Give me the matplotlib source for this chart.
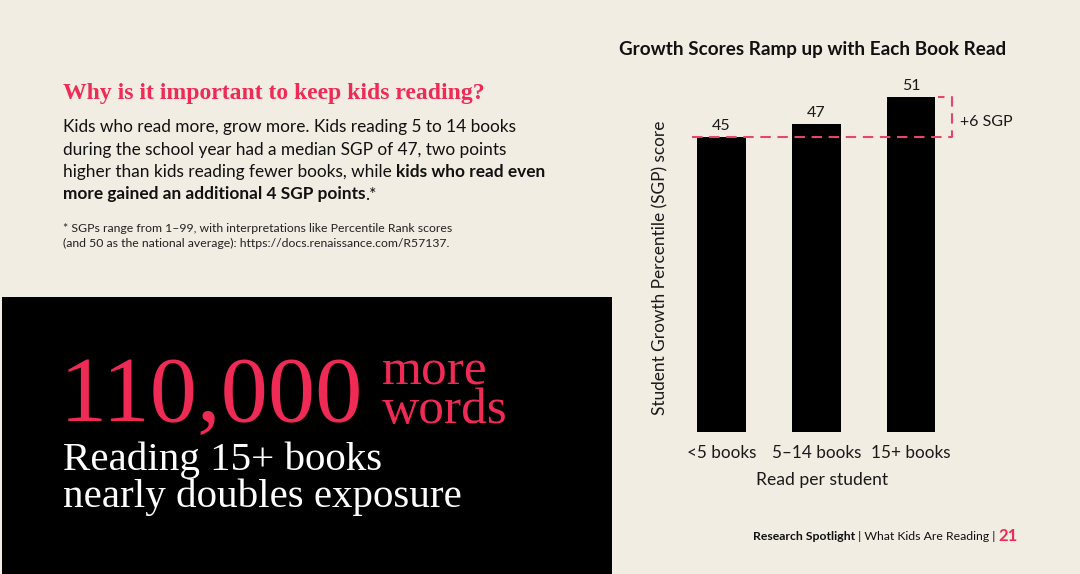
import matplotlib
matplotlib.use("Agg")
import matplotlib.pyplot as plt
from matplotlib.patches import Rectangle

# ---------------- data ----------------
categories = ["<5 books", "5\u201314 books", "15+ books"]
sgp_values = [45, 47, 51]
chart_title = "Growth Scores Ramp up with Each Book Read"
x_label = "Read per student"
y_label = "Student Growth Percentile (SGP) score"
gain_label = "+6 SGP"

heading = "Why is it important to keep kids reading?"
body_lines = [
    [("Kids who read more, grow more. Kids reading 5 to 14 books", "normal")],
    [("during the school year had a median SGP of 47, two points", "normal")],
    [("higher than kids reading fewer books, while ", "normal"), ("kids who read even", "bold")],
    [("more gained an additional 4 SGP points", "bold"), (".*", "normal")],
]
footnote_lines = [
    "* SGPs range from 1\u201399, with interpretations like Percentile Rank scores",
    "(and 50 as the national average): https://docs.renaissance.com/R57137.",
]
big_number = "110,000"
big_suffix = "more\nwords"
big_sub = ["Reading 15+ books", "nearly doubles exposure"]
footer_parts = [("Research Spotlight", "bold"), (" | What Kids Are Reading | ", "normal")]
page_number = "21"

# ---------------- style ----------------
BG = "#F2EDE3"
RED = "#EE2A55"
DASH = "#E5476B"
INK = "#111111"
SANS = ["Lato", "DejaVu Sans"]
SERIF = ["Liberation Serif", "DejaVu Serif"]

W, H = 1080, 574
fig = plt.figure(figsize=(W / 100, H / 100), dpi=100, facecolor=BG)


def P(x, y):
    return (x / W, 1 - y / H)


renderer = fig.canvas.get_renderer()


def run_line(x, y, parts, size, color, family, va="center"):
    cx = x
    for txt, weight in parts:
        t = fig.text(*P(cx, y), txt, fontsize=size, fontweight=weight, color=color,
                     family=family, ha="left", va=va)
        bb = t.get_window_extent(renderer=renderer)
        cx += bb.width
    return cx


# ---------------- left text ----------------
fig.text(*P(63, 93), heading, fontsize=17, fontweight="bold", color=RED, family=SERIF,
         ha="left", va="center")
for i, parts in enumerate(body_lines):
    run_line(63, 127 + i * 22.5, parts, 12.4, INK, SANS)
for i, line in enumerate(footnote_lines):
    fig.text(*P(63, 228 + i * 15), line, fontsize=8.8, color="#222222", family=SANS,
             ha="left", va="center")

# black box
fig.patches.append(Rectangle(P(2, 574), 610 / W, 277 / H, transform=fig.transFigure,
                             facecolor="black", edgecolor="none", zorder=0))
fig.text(*P(60, 421), big_number, fontsize=68, color=RED, family=SERIF, ha="left",
         va="baseline")
fig.text(*P(382, 423), big_suffix, fontsize=37, color=RED, family=SERIF, ha="left",
         va="baseline", linespacing=0.78)
fig.text(*P(63, 470), big_sub[0], fontsize=29.5, color="white", family=SERIF, ha="left",
         va="baseline")
fig.text(*P(63, 507), big_sub[1], fontsize=29.5, color="white", family=SERIF, ha="left",
         va="baseline")

# ---------------- chart ----------------
ax_l, ax_r, ax_b, ax_t = 672, 972, 432, 71.2
ax = fig.add_axes([ax_l / W, 1 - ax_b / H, (ax_r - ax_l) / W, (ax_b - ax_t) / H])
ax.set_facecolor("none")
xs = list(range(len(categories)))
bw = 0.512
bars = ax.bar(xs, sgp_values, width=bw, color="black", zorder=2)
ax.set_xlim((ax_l - 721.5) / 94.75, (ax_r - 721.5) / 94.75)
ax.set_ylim(0, 55)
for s in ax.spines.values():
    s.set_visible(False)
ax.set_yticks([])
ax.set_xticks(xs)
ax.set_xticklabels(categories, fontsize=12.3, family=SANS, color="#1a1a1a")
ax.tick_params(axis="x", length=0, pad=9)
ax.set_xlabel(x_label, fontsize=12.6, family=SANS, color="#1a1a1a", labelpad=8)
ax.set_ylabel(y_label, fontsize=12.4, family=SANS, color="#1a1a1a")
ax.yaxis.set_label_coords(-0.012, (ax_b - 268) / (ax_b - ax_t))
for x, v in zip(xs, sgp_values):
    ax.annotate(str(v), (x, v), xytext=(0, 3), textcoords="offset points", ha="center",
                va="bottom", fontsize=11.5, family=SANS, color="#1a1a1a", annotation_clip=False)

base = sgp_values[0]
top = sgp_values[-1]
x0 = xs[0] - bw / 2 - 0.055
x1 = xs[-1] + bw / 2 + 0.18
dash_kw = dict(color=DASH, lw=1.5, dashes=(5, 3.2), clip_on=False, zorder=3)
ax.plot([x0, x1, x1, xs[-1] + bw / 2 + 0.03], [base, base, top, top], **dash_kw)
ax.text(x1 + 0.085, (base + top) / 2 - 0.7, gain_label, fontsize=11.5, family=SANS,
        color="#1a1a1a", ha="left", va="center")

fig.text(*P(813, 49), chart_title, fontsize=13.6, fontweight="bold", family=SANS,
         color=INK, ha="center", va="center")

# ---------------- footer ----------------
cx = 0
for txt, wt in footer_parts:
    t = fig.text(0, 0, txt, fontsize=8.8, fontweight=wt, family=SANS)
    cx += t.get_window_extent(renderer=renderer).width
    t.remove()
tn = fig.text(0, 0, page_number, fontsize=12, fontweight="bold", family=SANS)
nw = tn.get_window_extent(renderer=renderer).width
tn.remove()
start = 1018 - nw - cx
end = run_line(start, 536, footer_parts, 8.8, INK, SANS)
fig.text(*P(end, 536), page_number, fontsize=12, fontweight="bold", family=SANS,
         color=RED, ha="left", va="center")

fig.savefig("out.png", dpi=100, facecolor=BG)
